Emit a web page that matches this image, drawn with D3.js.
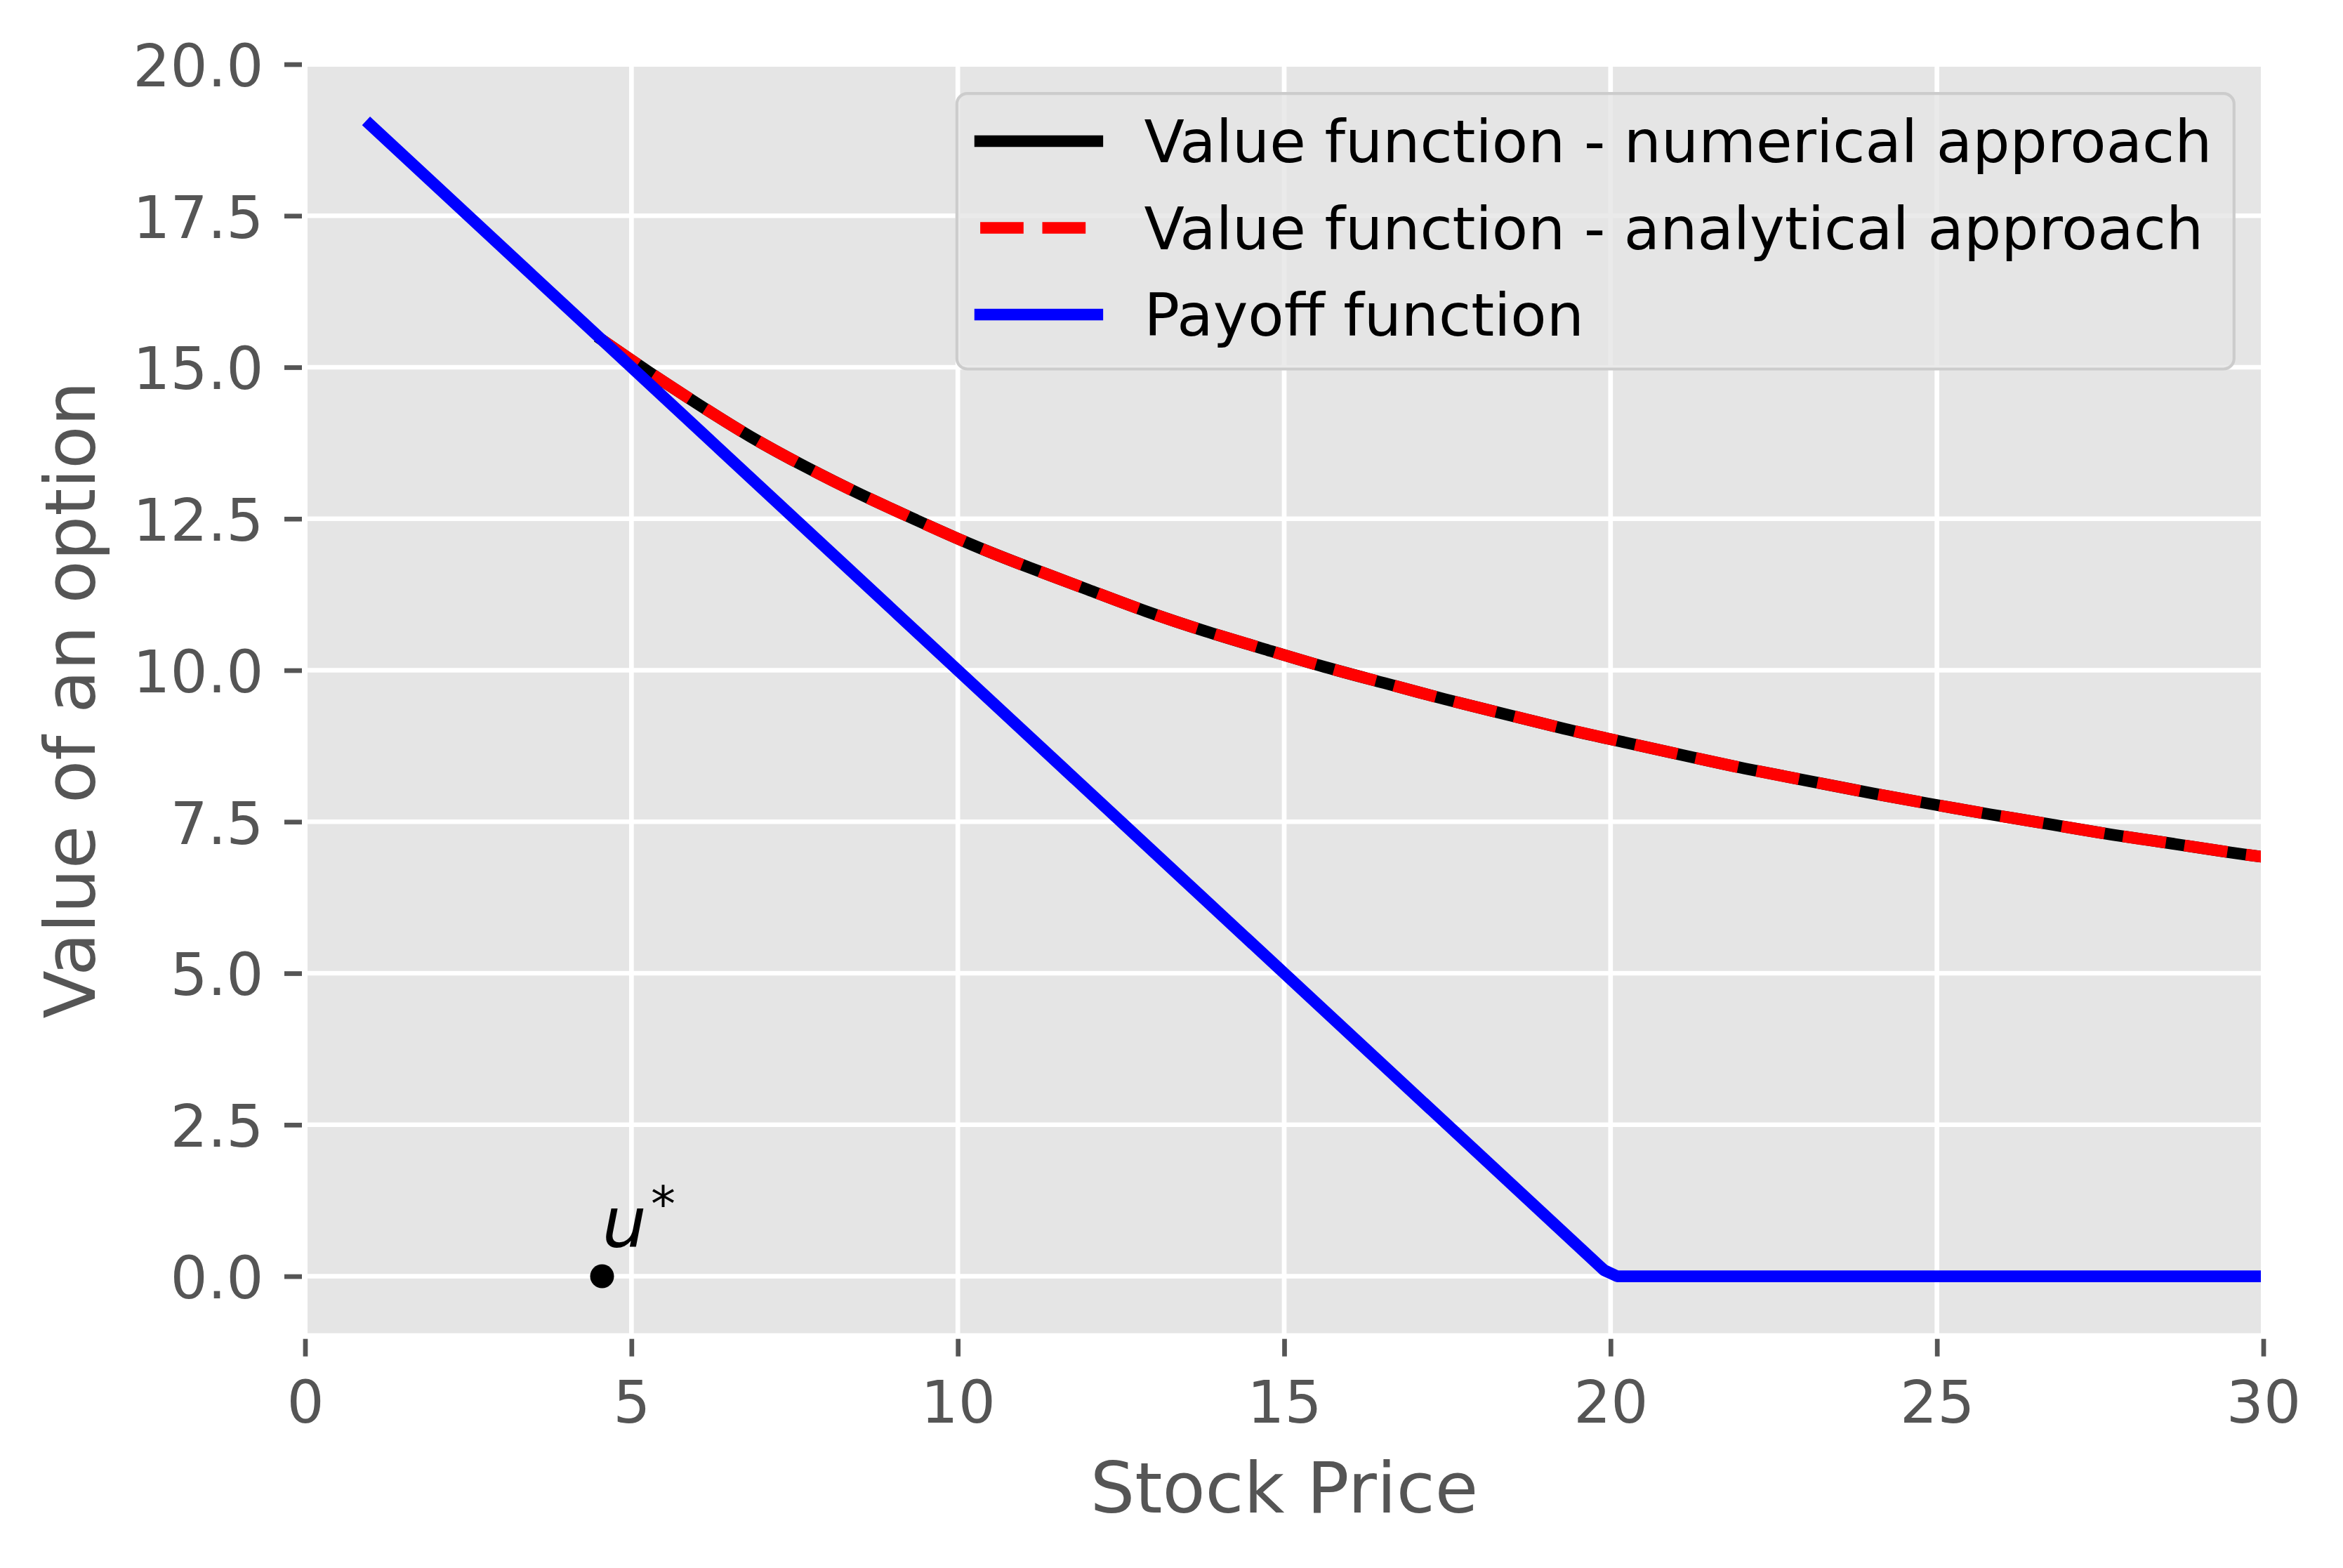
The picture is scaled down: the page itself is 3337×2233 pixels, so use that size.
<!DOCTYPE html>
<html><head><meta charset="utf-8">
<script src="https://cdn.jsdelivr.net/npm/d3@7"></script>
<style>html,body{margin:0;padding:0;background:#fff;} svg{display:block;}</style>
</head><body>
<script>
// ---- data ----
const stockPrice = [4.55, 5.25, 6.02, 6.81, 7.67, 8.50, 9.36, 10.22, 11.10, 12.0, 12.87, 13.79, 14.70, 15.61, 16.54, 17.45, 18.38, 19.29, 20.22, 21.10, 22.07, 23.01, 23.94, 24.87, 25.81, 26.74, 27.69, 28.62, 29.56, 30];
const valueNumerical = [15.45, 14.93, 14.39, 13.85, 13.35, 12.90, 12.48, 12.06, 11.69, 11.33, 10.97, 10.64, 10.35, 10.05, 9.79, 9.52, 9.28, 9.03, 8.81, 8.60, 8.37, 8.18, 7.98, 7.80, 7.62, 7.46, 7.28, 7.14, 6.98, 6.92];
const valueAnalytical = [15.45, 14.93, 14.39, 13.85, 13.35, 12.90, 12.48, 12.06, 11.69, 11.33, 10.97, 10.64, 10.35, 10.05, 9.79, 9.52, 9.28, 9.03, 8.81, 8.60, 8.37, 8.18, 7.98, 7.80, 7.62, 7.46, 7.28, 7.14, 6.98, 6.92];
const payoffPrice = [1, 19.9, 20.1, 30];
const payoffValue = [19, 0.1, 0, 0];
const uStarPoint = [4.55, 0];
const uStarLabelPos = [4.55, 0.48];
const xTickValues = [0, 5, 10, 15, 20, 25, 30];
const yTickValues = [0, 2.5, 5, 7.5, 10, 12.5, 15, 17.5, 20];
const seriesLabels = ["Value function - numerical approach", "Value function - analytical approach", "Payoff function"];
const xLabel = "Stock Price";
const yLabel = "Value of an option";

// ---- layout ----
const W = 3337, H = 2233;
const FONT = "DejaVu Sans";
const x = d3.scaleLinear().domain([0, 30]).range([434.5, 3223.5]);
const y = d3.scaleLinear().domain([-0.98, 20]).range([1902.1, 91.5]);
const [x0, x1] = x.range();
const [yb, yt] = y.range();

const svg = d3.select("body").append("svg").attr("width", W).attr("height", H)
  .style("font-family", FONT);
svg.append("rect").attr("width", W).attr("height", H).attr("fill", "#ffffff");

svg.append("defs").append("clipPath").attr("id", "clip")
  .append("rect").attr("x", x0).attr("y", yt).attr("width", x1 - x0).attr("height", yb - yt);

// axes background
svg.append("rect").attr("x", x0).attr("y", yt).attr("width", x1 - x0).attr("height", yb - yt)
  .attr("fill", "#E5E5E5");

// grid
const grid = svg.append("g");
grid.selectAll(".gx").data(xTickValues).join("line")
  .attr("x1", d => x(d)).attr("x2", d => x(d)).attr("y1", yt).attr("y2", yb)
  .attr("stroke", "#ffffff").attr("stroke-width", 6.7);
grid.selectAll(".gy").data(yTickValues).join("line")
  .attr("y1", d => y(d)).attr("y2", d => y(d)).attr("x1", x0).attr("x2", x1)
  .attr("stroke", "#ffffff").attr("stroke-width", 6.7);

// lines
const plot = svg.append("g").attr("clip-path", "url(#clip)");
const curveLine = d3.line().x(d => x(d[0])).y(d => y(d[1])).curve(d3.curveBasis);
const straight = d3.line().x(d => x(d[0])).y(d => y(d[1]));
const numData = stockPrice.map((s, i) => [s, valueNumerical[i]]);
const anaData = stockPrice.map((s, i) => [s, valueAnalytical[i]]);
const payData = payoffPrice.map((s, i) => [s, payoffValue[i]]);

plot.append("path").attr("d", curveLine(numData)).attr("fill", "none")
  .attr("stroke", "#000000").attr("stroke-width", 16.7).attr("stroke-linecap", "square").attr("stroke-linejoin", "round");
plot.append("path").attr("d", curveLine(anaData)).attr("fill", "none")
  .attr("stroke", "#FF0000").attr("stroke-width", 16.7).attr("stroke-dasharray", "61.7 26.7").attr("stroke-linecap", "butt");
plot.append("path").attr("d", straight(payData)).attr("fill", "none")
  .attr("stroke", "#0000FF").attr("stroke-width", 16.7).attr("stroke-linecap", "square").attr("stroke-linejoin", "round");

// u* point and label
plot.append("circle").attr("cx", x(uStarPoint[0])).attr("cy", y(uStarPoint[1])).attr("r", 17).attr("fill", "#000");
const ut = svg.append("text").attr("x", x(uStarLabelPos[0])).attr("y", y(uStarLabelPos[1]))
  .attr("font-size", 100).attr("fill", "#000");
ut.append("tspan").attr("font-style", "italic").text("u");
ut.append("tspan").attr("font-size", 70).attr("dx", 6).attr("dy", -37).text("*");

// spines (white)
svg.append("rect").attr("x", x0).attr("y", yt).attr("width", x1 - x0).attr("height", yb - yt)
  .attr("fill", "none").attr("stroke", "#ffffff").attr("stroke-width", 7);

// axes
const tickColor = "#555555";
const yAxis = d3.axisLeft(y).tickValues(yTickValues).tickFormat(d3.format(".1f"))
  .tickSize(25).tickPadding(29.5);
const gy = svg.append("g").attr("transform", `translate(${x0 - 4.5},0)`).call(yAxis);
const xAxis = d3.axisBottom(x).tickValues(xTickValues).tickFormat(d3.format("d"))
  .tickSize(25).tickPadding(35);
const gx = svg.append("g").attr("transform", `translate(0,${yb + 4.6})`).call(xAxis);
[gx, gy].forEach(g => {
  g.select(".domain").remove();
  g.selectAll(".tick line").attr("stroke", tickColor).attr("stroke-width", 6.7);
  g.selectAll(".tick text").attr("fill", tickColor).attr("font-size", 83.6).attr("font-family", FONT);
});
gy.selectAll(".tick text").attr("dy", "0.37em");

// axis labels
svg.append("text").attr("x", (x0 + x1) / 2).attr("y", 2154).attr("text-anchor", "middle")
  .attr("font-size", 100).attr("fill", tickColor).text(xLabel);
svg.append("text").attr("transform", `translate(135,${(yt + yb) / 2}) rotate(-90)`).attr("text-anchor", "middle")
  .attr("font-size", 100).attr("fill", tickColor).text(yLabel);

// legend
const lg = svg.append("g");
const lgX = 1362.8, lgY = 133.2, lgW = 3181.8 - 1362.8, lgH = 525.5 - 133.2;
lg.append("rect").attr("x", lgX).attr("y", lgY).attr("width", lgW).attr("height", lgH)
  .attr("rx", 15).attr("ry", 15)
  .attr("fill", "#E5E5E5").attr("fill-opacity", 0.8).attr("stroke", "#CCCCCC").attr("stroke-width", 4.2);
const rowY = [201, 324.5, 448];
const styles = [
  {stroke: "#000000", dash: null},
  {stroke: "#FF0000", dash: "61.7 26.7"},
  {stroke: "#0000FF", dash: null}
];
seriesLabels.forEach((lab, i) => {
  const l = lg.append("line").attr("x1", 1396.1).attr("x2", 1562.8).attr("y1", rowY[i]).attr("y2", rowY[i])
    .attr("stroke", styles[i].stroke).attr("stroke-width", 16.7)
    .attr("stroke-linecap", styles[i].dash ? "butt" : "square");
  if (styles[i].dash) l.attr("stroke-dasharray", styles[i].dash);
  lg.append("text").attr("x", 1629.5).attr("y", rowY[i] + 30).attr("font-size", 83.9)
    .attr("fill", "#000").text(lab);
});
</script>
</body></html>
